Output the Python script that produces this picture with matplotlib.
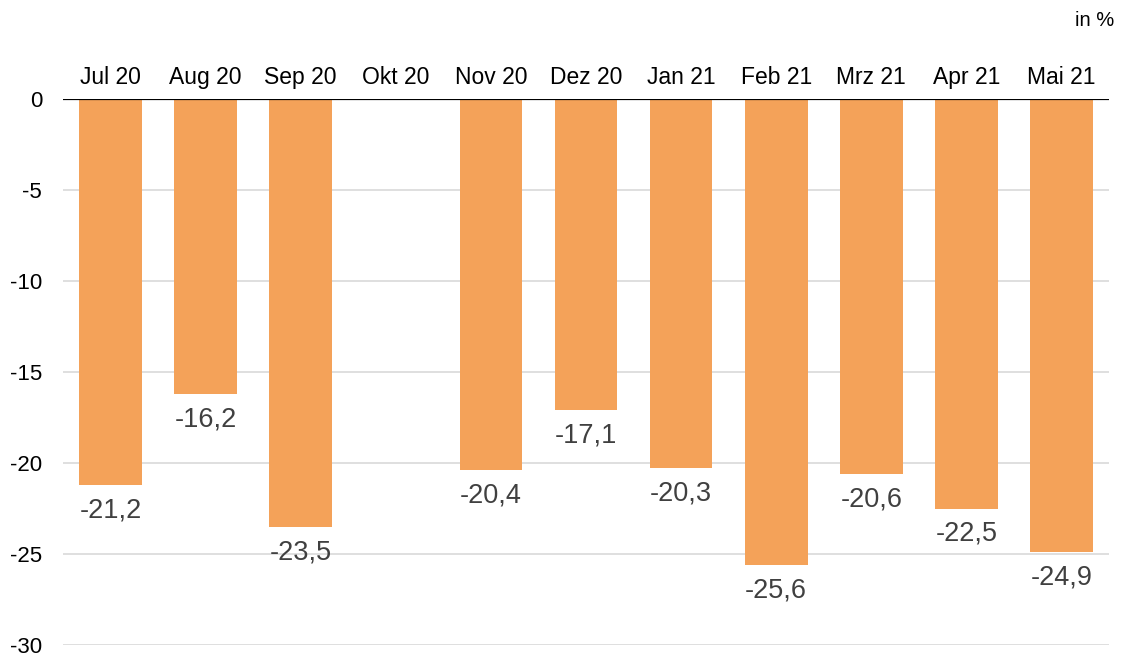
import numpy as np
import matplotlib.pyplot as plt

plt.rcParams['font.family'] = ['Liberation Sans', 'DejaVu Sans']

# monthly change in %, Okt 20 has no value
months = ['Jul 20', 'Aug 20', 'Sep 20', 'Okt 20', 'Nov 20', 'Dez 20',
          'Jan 21', 'Feb 21', 'Mrz 21', 'Apr 21', 'Mai 21']
values = [-21.2, -16.2, -23.5, np.nan, -20.4, -17.1,
          -20.3, -25.6, -20.6, -22.5, -24.9]
y_ticks = [0, -5, -10, -15, -20, -25, -30]

bar_color = '#F4A259'

fig = plt.figure(figsize=(11.21, 6.57), dpi=100)
ax = fig.add_axes([63 / 1121, 1 - 645 / 657, (1109 - 63) / 1121, (645 - 99) / 657])

x = np.arange(len(months))
ax.bar(x, values, width=0.66, color=bar_color, zorder=2)

# value labels below each bar
for xi, v in zip(x, values):
    if np.isnan(v):
        continue
    ax.annotate(f"{v:.1f}".replace('.', ','), (xi, v), xytext=(0, -9),
                textcoords='offset points', ha='center', va='top',
                fontsize=19.5, color='#404040')

ax.set_xlim(-0.5, len(months) - 0.5)
ax.set_ylim(-30, 0)

# category labels sit above the zero line
ax.xaxis.tick_top()
ax.set_xticks(x)
ax.set_xticklabels(months, fontsize=16.5)
ax.tick_params(axis='x', length=0, pad=7.5)

ax.set_yticks(y_ticks)
ax.set_yticklabels([str(t) for t in y_ticks], fontsize=16)
ax.tick_params(axis='y', length=0, pad=15)

ax.grid(axis='y', color='#d9d9d9', linewidth=1.2, zorder=0)
ax.axhline(0, color='black', linewidth=1.6, zorder=3)

for s in ax.spines.values():
    s.set_visible(False)

fig.text(1114 / 1121, 1 - 20 / 657, 'in %', ha='right', va='center', fontsize=14.5)

fig.savefig('out.png', dpi=100)
